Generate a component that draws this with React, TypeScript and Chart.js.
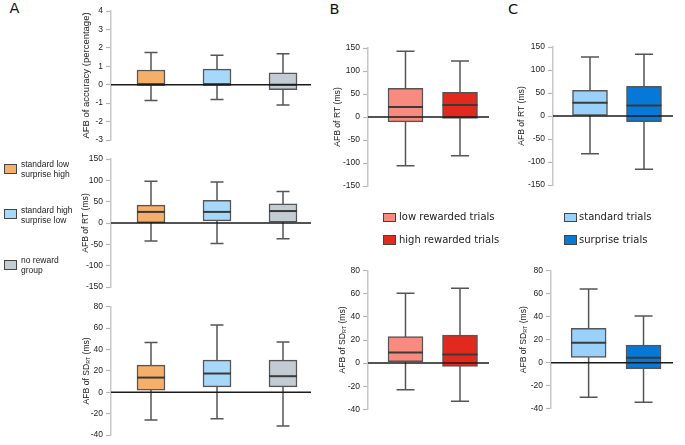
import React, { useEffect, useRef } from "react";
import { Chart, registerables } from "chart.js";
Chart.register(...registerables);

// ---------- Panel A (three groups) ----------
const groupsA = ["standard low\nsurprise high", "standard high\nsurprise low", "no reward\ngroup"];
const colorsA = ["#F6AF6B", "#A7D8FA", "#C3CBD3"];
const posA = [1, 2, 3];

const accTicks = [-3, -2, -1, 0, 1, 2, 3, 4];
const accMin = [-0.85, -0.8, -1.1];
const accQ1 = [0, 0, -0.27];
const accMed = [0, 0, 0];
const accQ3 = [0.8, 0.85, 0.65];
const accMax = [1.75, 1.6, 1.68];

const rtTicks = [-150, -100, -50, 0, 50, 100, 150];
const aRtMin = [-42, -48, -37];
const aRtQ1 = [1, 5, 2];
const aRtMed = [26, 26, 28];
const aRtQ3 = [42, 53, 45];
const aRtMax = [98, 96, 74];

const sdTicks = [-40, -20, 0, 20, 40, 60, 80];
const aSdMin = [-26, -24.7, -31.5];
const aSdQ1 = [2, 5, 5];
const aSdMed = [13.7, 17.5, 15];
const aSdQ3 = [25.3, 30, 30];
const aSdMax = [46.5, 63, 47];

// ---------- Panel B (reward) ----------
const groupsB = ["low rewarded trials", "high rewarded trials"];
const colorsB = ["#F88A80", "#E2291E"];
const posBC = [1, 2];
const bRtMin = [-106, -84];
const bRtQ1 = [-10.6, -3];
const bRtMed = [21.7, 26];
const bRtQ3 = [62.3, 53.6];
const bRtMax = [143, 122];
const bSdMin = [-23, -33];
const bSdQ1 = [1.2, -2.9];
const bSdMed = [9.2, 7.5];
const bSdQ3 = [23, 24.2];
const bSdMax = [60.4, 64.7];

// ---------- Panel C (surprise) ----------
const groupsC = ["standard trials", "surprise trials"];
const colorsC = ["#99D1FB", "#0678D8"];
const cRtMin = [-82, -116];
const cRtQ1 = [0, -12.3];
const cRtMed = [29, 23];
const cRtQ3 = [56, 64.5];
const cRtMax = [128, 134];
const cSdMin = [-30, -34.3];
const cSdQ1 = [4.7, -5.2];
const cSdMed = [17.3, 4.3];
const cSdQ3 = [29.8, 15.3];
const cSdMax = [64, 40.7];

type Spec = {
  axisX: number; right: number; top: number; bottom: number;
  ticks: number[]; xMin: number; xMax: number; pos: number[];
  mins: number[]; q1: number[]; med: number[]; q3: number[]; maxs: number[];
  colors: string[]; barW: number; capW: number;
  title: string[]; titleOff: number; titleSize: number;
};

const AX = { xMin: 0.394, xMax: 3.424, barW: 28, capW: 13 };
const BX = { xMin: 0.312, xMax: 2.532, barW: 35, capW: 18 };

const specs: Spec[] = [
  { axisX: 111, right: 311, top: 11, bottom: 140, ticks: accTicks, ...AX, pos: posA,
    mins: accMin, q1: accQ1, med: accMed, q3: accQ3, maxs: accMax, colors: colorsA,
    title: ["AFB of accuracy (percentage)"], titleOff: 24.5, titleSize: 9.5 },
  { axisX: 111, right: 311, top: 159, bottom: 287, ticks: rtTicks, ...AX, pos: posA,
    mins: aRtMin, q1: aRtQ1, med: aRtMed, q3: aRtQ3, maxs: aRtMax, colors: colorsA,
    title: ["AFB of RT (ms)"], titleOff: 25.5, titleSize: 8.6 },
  { axisX: 111, right: 311, top: 306.7, bottom: 435, ticks: sdTicks, ...AX, pos: posA,
    mins: aSdMin, q1: aSdQ1, med: aSdMed, q3: aSdQ3, maxs: aSdMax, colors: colorsA,
    title: ["AFB of SD", "RT", " (ms)"], titleOff: 24.5, titleSize: 8.6 },
  { axisX: 368, right: 489, top: 48, bottom: 186, ticks: rtTicks, ...BX, pos: posBC,
    mins: bRtMin, q1: bRtQ1, med: bRtMed, q3: bRtQ3, maxs: bRtMax, colors: colorsB,
    title: ["AFB of RT (ms)"], titleOff: 30.5, titleSize: 8.6 },
  { axisX: 368, right: 489, top: 270.7, bottom: 409.3, ticks: sdTicks, ...BX, pos: posBC,
    mins: bSdMin, q1: bSdQ1, med: bSdMed, q3: bSdQ3, maxs: bSdMax, colors: colorsB,
    title: ["AFB of SD", "RT", " (ms)"], titleOff: 25.5, titleSize: 8.6 },
  { axisX: 553, right: 673, top: 47, bottom: 185, ticks: rtTicks, ...BX, xMin: 0.315, xMax: 2.537, pos: posBC,
    mins: cRtMin, q1: cRtQ1, med: cRtMed, q3: cRtQ3, maxs: cRtMax, colors: colorsC,
    title: ["AFB of RT (ms)"], titleOff: 31.3, titleSize: 8.6 },
  { axisX: 551, right: 673, top: 270.7, bottom: 408.7, ticks: sdTicks, ...BX, xMin: 0.315, xMax: 2.537, pos: posBC,
    mins: cSdMin, q1: cSdQ1, med: cSdMed, q3: cSdQ3, maxs: cSdMax, colors: colorsC,
    title: ["AFB of SD", "RT", " (ms)"], titleOff: 27.5, titleSize: 8.6 },
];

const FONT = '"Liberation Sans", Arial, sans-serif';

function geom(s: Spec) {
  const cl = Math.floor(s.axisX - 60);
  const ct = Math.floor(s.top - 12);
  const cw = Math.ceil(s.right + 8) - cl;
  const ch = Math.ceil(s.bottom + 12) - ct;
  return { cl, ct, cw, ch };
}

function BoxChart({ s }: { s: Spec }) {
  const ref = useRef<HTMLCanvasElement>(null);
  const g = geom(s);
  useEffect(() => {
    if (!ref.current) return;
    const plugin = {
      id: "boxExtras",
      beforeDatasetsDraw(chart: any) {
        const ctx = chart.ctx;
        const xs = chart.scales.x, ys = chart.scales.y;
        ctx.save();
        ctx.strokeStyle = "#555";
        ctx.lineWidth = 1.5;
        s.pos.forEach((p, i) => {
          const x = xs.getPixelForValue(p);
          const y0 = ys.getPixelForValue(s.mins[i]);
          const y1 = ys.getPixelForValue(s.maxs[i]);
          ctx.beginPath();
          ctx.moveTo(x, y0); ctx.lineTo(x, y1);
          ctx.moveTo(x - s.capW / 2, y0); ctx.lineTo(x + s.capW / 2, y0);
          ctx.moveTo(x - s.capW / 2, y1); ctx.lineTo(x + s.capW / 2, y1);
          ctx.stroke();
        });
        ctx.restore();
      },
      afterDatasetsDraw(chart: any) {
        const ctx = chart.ctx;
        const xs = chart.scales.x, ys = chart.scales.y;
        const ca = chart.chartArea;
        ctx.save();
        ctx.strokeStyle = "#3a3a3a";
        ctx.lineWidth = 2;
        s.pos.forEach((p, i) => {
          const x = xs.getPixelForValue(p);
          const y = ys.getPixelForValue(s.med[i]);
          ctx.beginPath();
          ctx.moveTo(x - s.barW / 2, y); ctx.lineTo(x + s.barW / 2, y);
          ctx.stroke();
        });
        const z = ys.getPixelForValue(0);
        ctx.strokeStyle = "#1a1a1a";
        ctx.lineWidth = 1.5;
        ctx.beginPath();
        ctx.moveTo(ca.left, z); ctx.lineTo(ca.right, z);
        ctx.stroke();
        ctx.restore();
      },
      afterDraw(chart: any) {
        const ctx = chart.ctx;
        const ca = chart.chartArea;
        const x = ca.left - s.titleOff;
        const cy = (ca.top + ca.bottom) / 2;
        ctx.save();
        ctx.translate(x, cy);
        ctx.rotate(-Math.PI / 2);
        ctx.fillStyle = "#222";
        ctx.textBaseline = "middle";
        ctx.textAlign = "left";
        const big = `${s.titleSize}px ${FONT}`;
        const small = `${s.titleSize * 0.62}px ${FONT}`;
        const widths = s.title.map((t, i) => {
          ctx.font = i === 1 ? small : big;
          return ctx.measureText(t).width;
        });
        const total = widths.reduce((a, b) => a + b, 0);
        let cx = -total / 2;
        s.title.forEach((t, i) => {
          ctx.font = i === 1 ? small : big;
          ctx.fillText(t, cx, i === 1 ? 2.5 : 0);
          cx += widths[i];
        });
        ctx.restore();
      },
    };
    const chart = new Chart(ref.current, {
      type: "bar",
      data: {
        datasets: [
          {
            data: s.pos.map((p, i) => ({ x: p, y: [s.q1[i], s.q3[i]] })) as any,
            backgroundColor: s.colors,
            borderColor: "#555",
            borderWidth: 1.5,
            borderSkipped: false,
            barThickness: s.barW,
          } as any,
        ],
      },
      options: {
        responsive: false,
        animation: false,
        events: [],
        layout: {
          padding: {
            left: 0,
            top: s.top - g.ct,
            bottom: g.ct + g.ch - s.bottom,
            right: g.cl + g.cw - s.right,
          },
        },
        plugins: { legend: { display: false }, tooltip: { enabled: false } },
        scales: {
          x: { type: "linear", display: false, offset: false, min: s.xMin, max: s.xMax, grid: { offset: false } } as any,
          y: {
            type: "linear",
            min: s.ticks[0],
            max: s.ticks[s.ticks.length - 1],
            afterBuildTicks: (sc: any) => {
              sc.ticks = s.ticks.map((v) => ({ value: v }));
            },
            afterFit: (sc: any) => {
              sc.width = s.axisX - g.cl;
            },
            ticks: { font: { family: FONT, size: 8.5 }, color: "#222", padding: 3 },
            grid: {
              display: true,
              drawOnChartArea: false,
              drawTicks: true,
              tickLength: 5,
              tickColor: "#b5b5b5",
              tickWidth: 1.2,
              color: "#b5b5b5",
            },
            border: { display: true, color: "#c8c8c8", width: 1.5 },
          } as any,
        },
      },
      plugins: [plugin],
    });
    return () => chart.destroy();
  }, []);
  return (
    <canvas
      ref={ref}
      width={g.cw}
      height={g.ch}
      style={{ position: "absolute", left: g.cl, top: g.ct, width: g.cw, height: g.ch }}
    />
  );
}

const sq = (left: number, top: number, w: number, h: number, color: string) => (
  <div
    style={{
      position: "absolute", left, top, width: w, height: h, background: color,
      border: "1.5px solid #444", boxSizing: "border-box",
    }}
  />
);

const DEJA = '"DejaVu Sans", Verdana, sans-serif';

export default function App() {
  const legendA = [
    { sqTop: 164, textTop: 158.5 },
    { sqTop: 209, textTop: 204.5 },
    { sqTop: 260, textTop: 254.5 },
  ];
  const legendBC = [
    { sqTop: 212.7, textMid: 217 },
    { sqTop: 235, textMid: 239.5 },
  ];
  return (
    <div style={{ position: "absolute", left: 0, top: 0, width: 685, height: 445, background: "#fff", overflow: "hidden" }}>
      <div style={{ position: "absolute", left: 9.5, top: 1, font: `14.5px ${DEJA}`, lineHeight: "14.5px", color: "#111" }}>A</div>
      <div style={{ position: "absolute", left: 329.5, top: 2, font: `14.5px ${DEJA}`, lineHeight: "14.5px", color: "#111" }}>B</div>
      <div style={{ position: "absolute", left: 508, top: 2.3, font: `14.5px ${DEJA}`, lineHeight: "14.5px", color: "#111" }}>C</div>
      {specs.map((s, i) => (
        <BoxChart key={i} s={s} />
      ))}
      {groupsA.map((g, i) => (
        <React.Fragment key={"a" + i}>
          {sq(4, legendA[i].sqTop, 12.5, 9.5, colorsA[i])}
          <div
            style={{
              position: "absolute", left: 21, top: legendA[i].textTop, font: `8.5px ${FONT}`,
              lineHeight: "10.5px", color: "#222", whiteSpace: "pre",
            }}
          >
            {g}
          </div>
        </React.Fragment>
      ))}
      {groupsB.map((g, i) => (
        <React.Fragment key={"b" + i}>
          {sq(383, legendBC[i].sqTop, 13, 9.5, colorsB[i])}
          <div
            style={{
              position: "absolute", left: 399, top: legendBC[i].textMid - 7, font: `10px ${DEJA}`,
              lineHeight: "14px", color: "#222", whiteSpace: "pre",
            }}
          >
            {g}
          </div>
        </React.Fragment>
      ))}
      {groupsC.map((g, i) => (
        <React.Fragment key={"c" + i}>
          {sq(564, legendBC[i].sqTop, 13, 9.5, colorsC[i])}
          <div
            style={{
              position: "absolute", left: 579, top: legendBC[i].textMid - 7, font: `10px ${DEJA}`,
              lineHeight: "14px", color: "#222", whiteSpace: "pre",
            }}
          >
            {g}
          </div>
        </React.Fragment>
      ))}
    </div>
  );
}
